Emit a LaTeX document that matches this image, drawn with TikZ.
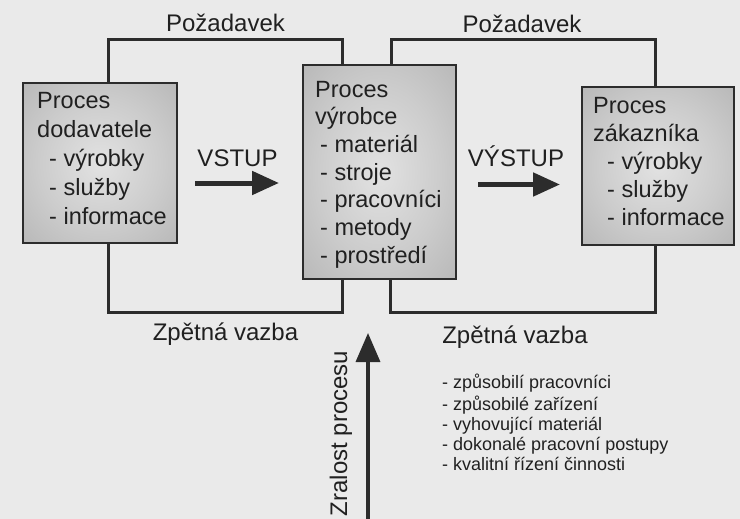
\documentclass[tikz,border=0pt]{standalone}
\usepackage{fontspec}
\setmainfont{Liberation Sans}
\usetikzlibrary{arrows.meta}
\definecolor{bg}{RGB}{234,234,234}
\definecolor{ink}{RGB}{44,44,44}
\definecolor{txt}{RGB}{32,32,32}
\definecolor{shA}{RGB}{226,226,226}
\definecolor{shB}{RGB}{204,204,204}
\definecolor{shC}{RGB}{166,166,166}
\definecolor{shD}{RGB}{140,140,140}
\pgfdeclareradialshading{boxshade}{\pgfpoint{0bp}{0bp}}{color(0bp)=(shA); color(20bp)=(shB); color(50bp)=(shC); color(72bp)=(shD)}
\begin{document}
\begin{tikzpicture}[x=1pt,y=-1pt,
  procbox/.style={draw=ink, line width=2.2pt, shading=boxshade, inner sep=0pt},
  boxtext/.style={anchor=north west, inner sep=0pt, align=left, text=txt},
  loopline/.style={draw=ink, line width=3pt},
  lbl/.style={font=\fontsize{24}{28}\selectfont, text=txt, inner sep=0pt, anchor=base},
  bigarrow/.style={draw=ink, line width=5pt, -{Triangle[length=27pt,width=23pt]}}]
\fill[bg] (0,0) rectangle (740,519);
\useasboundingbox (0,0) rectangle (740,519);

% boxes
\node[procbox, minimum width=154pt, minimum height=160pt] (dod) at (100,163) {};
\node[procbox, minimum width=153pt, minimum height=214pt] (vyr) at (379.5,172) {};
\node[procbox, minimum width=152pt, minimum height=158pt] (zak) at (658,166) {};

% box texts
\node[boxtext, font=\fontsize{23.5}{29}\selectfont] (dodt) at (37,87.7)
  {\strut Proces\\dodavatele\\\hspace*{12pt}- výrobky\\\hspace*{12pt}- služby\\\hspace*{12pt}- informace};
\node[boxtext, font=\fontsize{23.5}{27.7}\selectfont] (vyrt) at (315,77.6)
  {\strut Proces\\výrobce\\\hspace*{5pt}- materiál\\\hspace*{5pt}- stroje\\\hspace*{5pt}- pracovníci\\\hspace*{5pt}- metody\\\hspace*{5pt}- prostředí};
\node[boxtext, font=\fontsize{23.5}{28}\selectfont] (zakt) at (593,93.4)
  {\strut Proces\\zákazníka\\\hspace*{14pt}- výrobky\\\hspace*{14pt}- služby\\\hspace*{14pt}- informace};

% loops
\coordinate (t1) at (108,40);  \coordinate (t2) at (342,40);
\coordinate (t3) at (391,40);  \coordinate (t4) at (655,40);
\coordinate (b1) at (108,312); \coordinate (b2) at (342,312);
\coordinate (b3) at (655,312); \coordinate (b4) at (390,312);
\draw[loopline] (dod.north -| t1) -- (t1) -- (t2) -- (vyr.north -| t2);
\draw[loopline] (vyr.north -| t3) -- (t3) -- (t4) -- (zak.north -| t4);
\draw[loopline] (dod.south -| b1) -- (b1) -- (b2) -- (vyr.south -| b2);
\draw[loopline] (zak.south -| b3) -- (b3) -- (b4) -- (vyr.south -| b4);

% labels
\node[lbl] (poz1) at (225.5,32) {Požadavek};
\node[lbl] (poz2) at (522,33) {Požadavek};
\node[lbl] (vst) at (237.5,166) {VSTUP};
\node[lbl] (vyst) at (516,167) {VÝSTUP};
\node[lbl] (zv1) at (225.5,340) {Zpětná vazba};
\node[lbl] (zv2) at (515,343) {Zpětná vazba};

% arrows
\coordinate (va) at (195,183); \coordinate (vb) at (279,183);
\draw[bigarrow] (va) -- (vb);
\coordinate (wa) at (478,184.5); \coordinate (wb) at (560,184.5);
\draw[bigarrow] (wa) -- (wb);
\coordinate (zb) at (368,525); \coordinate (zt) at (368,333);
\draw[draw=ink, line width=3.5pt, -{Triangle[length=29pt,width=24pt]}] (zb) -- (zt);
\node[lbl, rotate=90] (zr) at (347,433.5) {Zralost procesu};

% list
\node[boxtext, font=\fontsize{18}{20}\selectfont] (lst) at (442,374)
  {\strut- způsobilí pracovníci\\- způsobilé zařízení\\- vyhovující materiál\\- dokonalé pracovní postupy\\- kvalitní řízení činnosti};
\end{tikzpicture}
\end{document}
